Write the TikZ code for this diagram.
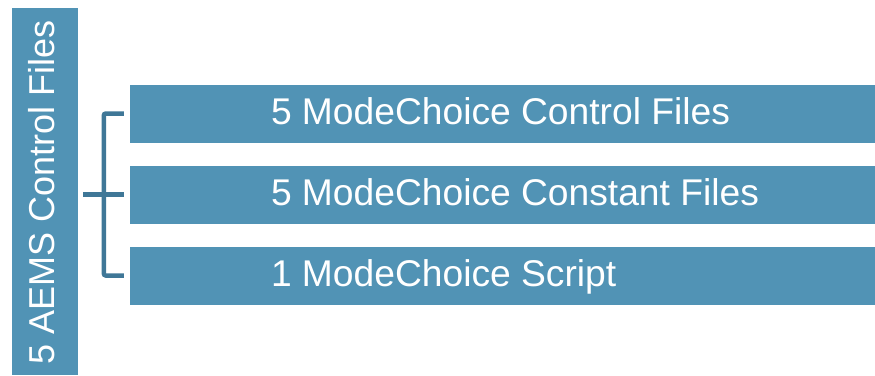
\documentclass[tikz,border=0pt]{standalone}
\usepackage{fontspec}
\setmainfont{Liberation Sans}
\definecolor{boxblue}{HTML}{5193B5}
\definecolor{lineblue}{HTML}{3F7797}
\begin{document}
\begin{tikzpicture}[x=1pt,y=-1pt,
  bluebox/.style={draw=none,fill=boxblue,rectangle,inner sep=0pt,minimum width=745pt,minimum height=58pt},
  boxtext/.style={text=white,font=\fontsize{37.2}{40}\selectfont,inner sep=0pt,anchor=base west},
  brk/.style={draw=lineblue,line width=4.5pt,rounded corners=2pt}]
\useasboundingbox (0,0) rectangle (875,375);
\node[draw=none,fill=boxblue,rectangle,inner sep=0pt,minimum width=66pt,minimum height=367pt] (bar) at (45,191.5) {};
\node[text=white,font=\fontsize{36}{40}\selectfont,rotate=90,inner sep=0pt,anchor=base] (bartext) at ([xshift=9pt,yshift=-1pt]bar.center) {5 AEMS Control Files};
\node[bluebox] (b1) at (502.5,113.5) {};
\node[bluebox] (b2) at (502.5,194.5) {};
\node[bluebox] (b3) at (502.5,275.5) {};
\node[boxtext] (t1) at ([xshift=141pt,yshift=-10.5pt]b1.west) {5 ModeChoice Control Files};
\node[boxtext] (t2) at ([xshift=141pt,yshift=-10.5pt]b2.west) {5 ModeChoice Constant Files};
\node[boxtext] (t3) at ([xshift=141pt,yshift=-10.5pt]b3.west) {1 ModeChoice Script};
\draw[brk] ([xshift=-6pt]b1.west) -- ++(-20,0) |- ([xshift=-6pt]b3.west);
\draw[brk] ([xshift=5pt]bar.east |- b2.west) -- ([xshift=-6pt]b2.west);
\end{tikzpicture}
\end{document}
